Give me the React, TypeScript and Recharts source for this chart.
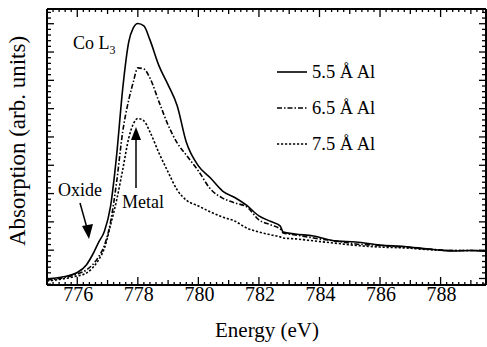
import React from 'react';
import { LineChart, Line, XAxis, YAxis } from 'recharts';

// Photon energy (eV)
const energy = [
  775.0, 775.5, 776.0, 776.3, 776.5, 776.7, 776.9, 777.1, 777.3, 777.5, 777.7, 777.85,
  778.0, 778.2, 778.4, 778.7, 779.0, 779.3, 779.6, 780.0, 780.4, 780.8, 781.2, 781.6,
  782.0, 782.4, 782.7, 782.8, 783.2, 783.8, 784.5, 785.2, 786.0, 786.8, 787.6, 788.4,
  789.0, 789.5,
];
// Absorption (arb. units)
const al55 = [
  -0.02, 0.05, 0.21, 0.48, 0.83, 1.27, 1.68, 2.56, 4.36, 6.7, 8.36, 8.85,
  9.01, 8.92, 8.43, 7.51, 6.84, 6.1, 4.82, 3.98, 3.55, 3.09, 2.86, 2.58,
  2.21, 2.01, 1.86, 1.64, 1.57, 1.5, 1.33, 1.29, 1.18, 1.13, 1.04, 0.97,
  0.99, 0.97,
];
const al65 = [
  -0.05, 0.02, 0.16, 0.3, 0.48, 0.76, 1.18, 2.0, 3.41, 5.18, 6.31, 6.94,
  7.44, 7.4, 7.08, 6.24, 5.42, 4.79, 4.36, 3.8, 3.16, 2.84, 2.67, 2.53,
  2.07, 1.89, 1.75, 1.61, 1.54, 1.43, 1.33, 1.22, 1.17, 1.11, 1.04, 0.99,
  0.99, 0.97,
];
const al75 = [
  -0.09, -0.02, 0.09, 0.19, 0.37, 0.65, 1.08, 1.89, 2.77, 3.84, 4.96, 5.46,
  5.65, 5.57, 5.18, 4.43, 3.76, 3.13, 2.77, 2.56, 2.35, 2.17, 2.03, 1.78,
  1.64, 1.54, 1.47, 1.43, 1.4, 1.33, 1.25, 1.17, 1.11, 1.08, 1.02, 0.99,
  0.99, 0.97,
];
const seriesNames = ['5.5 Å Al', '6.5 Å Al', '7.5 Å Al'];
const xMajorLabels = [776, 778, 780, 782, 784, 786, 788];

const X_DOMAIN: [number, number] = [775, 789.5];
const Y_DOMAIN: [number, number] = [-0.23, 9.52];

const xTicks: number[] = [];
for (let i = 1; i < 73; i++) xTicks.push(Math.round((775 + i * 0.2) * 10) / 10);
const yTicks: number[] = [];
for (let i = -1; i <= 47; i++) yTicks.push(Math.round(i * 0.2 * 10) / 10);

const data = energy.map((e, i) => ({ e, a: al55[i], b: al65[i], c: al75[i] }));

const FONT = '"Liberation Serif", "Times New Roman", serif';

const near = (v: number, step: number) => Math.abs(v / step - Math.round(v / step)) < 1e-6;

const xLen = (v: number) => (near(v, 2) ? 8 : near(v, 1) ? 5 : 3);
const yLen = (v: number) => (near(v, 1) ? 7 : 4);

const XTickBottom = (p: any) => {
  const v = p.payload.value;
  const len = xLen(v);
  const isLabel = xMajorLabels.some((m) => Math.abs(m - v) < 1e-6);
  return (
    <g>
      <line x1={p.x} x2={p.x} y1={p.y} y2={p.y - len} stroke="#000" strokeWidth={1.3} />
      {isLabel && (
        <text x={p.x + 1} y={p.y + 16} textAnchor="middle" fontSize={20} fontFamily={FONT} fill="#000">
          {Math.round(v)}
        </text>
      )}
    </g>
  );
};
const XTickTop = (p: any) => {
  const len = xLen(p.payload.value);
  return <line x1={p.x} x2={p.x} y1={p.y} y2={p.y + len} stroke="#000" strokeWidth={1.3} />;
};
const YTickLeft = (p: any) => {
  const len = yLen(p.payload.value);
  return <line x1={p.x} x2={p.x + len} y1={p.y} y2={p.y} stroke="#000" strokeWidth={1.3} />;
};
const YTickRight = (p: any) => {
  const len = yLen(p.payload.value);
  return <line x1={p.x} x2={p.x - len} y1={p.y} y2={p.y} stroke="#000" strokeWidth={1.3} />;
};

const dashes = [undefined, '5 2 1.5 2', '2.2 1.8'];

export default function App() {
  return (
    <div style={{ position: 'absolute', left: 0, top: 0, width: 487, height: 347, background: '#fff' }}>
      <LineChart
        width={487}
        height={347}
        data={data}
        margin={{ top: 8, right: 0, bottom: 61, left: 46 }}
      >
        <XAxis
          xAxisId="b"
          dataKey="e"
          type="number"
          domain={X_DOMAIN}
          allowDataOverflow
          ticks={xTicks}
          interval={0}
          height={1}
          tickSize={0}
          tickMargin={0}
          tickLine={false}
          tick={XTickBottom}
          axisLine={{ stroke: '#000', strokeWidth: 2 }}
        />
        <XAxis
          xAxisId="t"
          orientation="top"
          dataKey="e"
          type="number"
          domain={X_DOMAIN}
          allowDataOverflow
          ticks={xTicks}
          interval={0}
          height={1}
          tickSize={0}
          tickMargin={0}
          tickLine={false}
          tick={XTickTop}
          axisLine={{ stroke: '#000', strokeWidth: 2 }}
        />
        <YAxis
          yAxisId="l"
          type="number"
          domain={Y_DOMAIN}
          allowDataOverflow
          ticks={yTicks}
          interval={0}
          width={1}
          tickSize={0}
          tickMargin={0}
          tickLine={false}
          tick={YTickLeft}
          axisLine={{ stroke: '#000', strokeWidth: 2 }}
        />
        <YAxis
          yAxisId="r"
          orientation="right"
          type="number"
          domain={Y_DOMAIN}
          allowDataOverflow
          ticks={yTicks}
          interval={0}
          width={1}
          tickSize={0}
          tickMargin={0}
          tickLine={false}
          tick={YTickRight}
          axisLine={{ stroke: '#000', strokeWidth: 2 }}
        />
        {['a', 'b', 'c'].map((k, i) => (
          <Line
            key={k}
            xAxisId="b"
            yAxisId="l"
            dataKey={k}
            name={seriesNames[i]}
            type="monotone"
            stroke="#000"
            strokeWidth={1.6}
            strokeDasharray={dashes[i]}
            dot={false}
            activeDot={false}
            isAnimationActive={false}
          />
        ))}
      </LineChart>
      <svg
        width={487}
        height={347}
        style={{ position: 'absolute', left: 0, top: 0, pointerEvents: 'none' }}
      >
        <text x={267} y={337} textAnchor="middle" fontSize={21} fontFamily={FONT} fill="#000">
          Energy (eV)
        </text>
        <text
          transform="translate(25,141) rotate(-90)"
          textAnchor="middle"
          fontSize={23}
          fontFamily={FONT}
          fill="#000"
        >
          Absorption (arb. units)
        </text>
        <text x={73} y={49} fontSize={18} fontFamily={FONT} fill="#000">
          Co L
          <tspan dy={5} fontSize={12} fill="#000">
            3
          </tspan>
        </text>
        {seriesNames.map((n, i) => (
          <g key={n}>
            <line
              x1={277}
              x2={307}
              y1={72 + i * 36}
              y2={72 + i * 36}
              stroke="#000"
              strokeWidth={1.6}
              strokeDasharray={dashes[i]}
            />
            <text x={312} y={78 + i * 36} fontSize={18.5} fontFamily={FONT} fill="#000">
              {n}
            </text>
          </g>
        ))}
        <text x={58} y={196} fontSize={18} fontFamily={FONT} fill="#000">
          Oxide
        </text>
        <line x1={80} y1={203} x2={87} y2={228} stroke="#000" strokeWidth={1.5} />
        <polygon points="89,239 82,226 93,224" fill="#000" />
        <text x={122} y={208} fontSize={18} fontFamily={FONT} fill="#000">
          Metal
        </text>
        <line x1={136} y1={188} x2={136} y2={138} stroke="#000" strokeWidth={1.5} />
        <polygon points="136,127 131,140 141,140" fill="#000" />
      </svg>
    </div>
  );
}
